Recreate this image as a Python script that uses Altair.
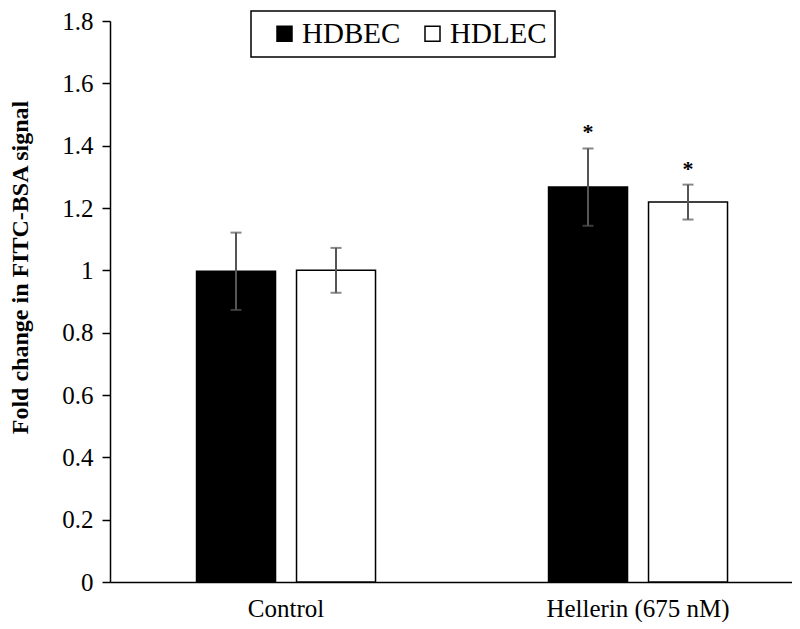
import altair as alt
import pandas as pd

groups = ["Control", "Hellerin (675 nM)"]
series = ["HDBEC", "HDLEC"]
hdbec_mean = [0.997, 1.267]
hdlec_mean = [1.0, 1.219]
hdbec_err = [0.124, 0.124]
hdlec_err = [0.072, 0.056]
hdbec_sig = ["", "*"]
hdlec_sig = ["", "*"]

rows = []
for i, g in enumerate(groups):
    rows.append(dict(group=g, series="HDBEC", mean=hdbec_mean[i], err=hdbec_err[i], sig=hdbec_sig[i]))
    rows.append(dict(group=g, series="HDLEC", mean=hdlec_mean[i], err=hdlec_err[i], sig=hdlec_sig[i]))
df = pd.DataFrame(rows)
df["lo"] = df["mean"] - df["err"]
df["hi"] = df["mean"] + df["err"]

FONT = "Times New Roman, Liberation Serif, serif"

x_enc = alt.X(
    "group:N",
    sort=groups,
    title=None,
    scale=alt.Scale(paddingInner=0.4915, paddingOuter=0.2145, align=0.573),
    axis=alt.Axis(labelAngle=0, ticks=False, labelPadding=14, domainColor="black",
                  domainWidth=1.5, labelFont=FONT, labelFontSize=25, labelColor="black",
                  labelLimit=400),
)
xoff = alt.XOffset("series:N", sort=series, scale=alt.Scale(paddingInner=0.21, paddingOuter=0))
y_scale = alt.Scale(domain=[0, 1.8], nice=False, zero=True)

bars = alt.Chart(df).mark_bar(stroke="black", strokeWidth=1.5).encode(
    x=x_enc,
    xOffset=xoff,
    y=alt.Y(
        "mean:Q",
        scale=y_scale,
        title="Fold change in FITC-BSA signal",
        axis=alt.Axis(
            values=[0, 0.2, 0.4, 0.6, 0.8, 1.0, 1.2, 1.4, 1.6, 1.8],
            format=".1~f",
            grid=False,
            domainColor="black",
            domainWidth=1.5,
            tickColor="black",
            tickWidth=1.5,
            tickSize=8,
            labelPadding=9,
            labelFont=FONT,
            labelFontSize=25,
            labelColor="black",
            titleFont=FONT,
            titleFontSize=24,
            titleFontWeight="bold",
            titleColor="black",
            titleX=-78,
            titleY=246,
        ),
    ),
    fill=alt.Fill(
        "series:N",
        sort=series,
        scale=alt.Scale(domain=series, range=["black", "white"]),
        legend=alt.Legend(
            title=None,
            orient="none",
            legendX=141,
            legendY=-10,
            direction="horizontal",
            symbolType="square",
            symbolSize=225,
            symbolStrokeColor="black",
            symbolStrokeWidth=1.5,
            symbolOffset=11,
            labelOffset=3,
            columnPadding=6,
            labelFont=FONT,
            labelFontSize=29,
            labelColor="black",
            labelExpr="datum.value == 'HDLEC' ? datum.label + '\u00a0\u00a0\u00a0\u00a0' : datum.label",
        ),
    ),
)

rules = alt.Chart(df).mark_rule(color="#555555", strokeWidth=2).encode(
    x=alt.X("group:N", sort=groups),
    xOffset=alt.XOffset("series:N", sort=series),
    y=alt.Y("lo:Q", scale=y_scale),
    y2="hi:Q",
)
caps_hi = alt.Chart(df).mark_tick(color="#555555", thickness=2, size=11).encode(
    x=alt.X("group:N", sort=groups),
    xOffset=alt.XOffset("series:N", sort=series),
    y=alt.Y("hi:Q", scale=y_scale),
)
caps_lo = alt.Chart(df).mark_tick(color="#555555", thickness=2, size=11).encode(
    x=alt.X("group:N", sort=groups),
    xOffset=alt.XOffset("series:N", sort=series),
    y=alt.Y("lo:Q", scale=y_scale),
)
stars = alt.Chart(df).mark_text(font=FONT, fontSize=22, fontWeight="bold", color="black",
                                baseline="alphabetic", dy=-9).encode(
    x=alt.X("group:N", sort=groups),
    xOffset=alt.XOffset("series:N", sort=series),
    y=alt.Y("hi:Q", scale=y_scale),
    text="sig:N",
)

chart = (
    alt.layer(bars, rules, caps_hi, caps_lo, stars)
    .properties(
        width=682,
        height=561,
        autosize=alt.AutoSizeParams(type="none"),
        padding={"left": 102, "top": 13, "right": 0, "bottom": 40},
    )
    .configure(font=FONT)
    .configure_view(stroke=None)
    .configure_axis(labelFont=FONT, titleFont=FONT)
    .configure_legend(
        labelFont=FONT,
        strokeColor="black",
        fillColor="white",
        strokeWidth=1.5,
        padding=8,
        cornerRadius=0,
    )
)

chart.save("out.html", embed_options={"renderer": "svg", "actions": False})
